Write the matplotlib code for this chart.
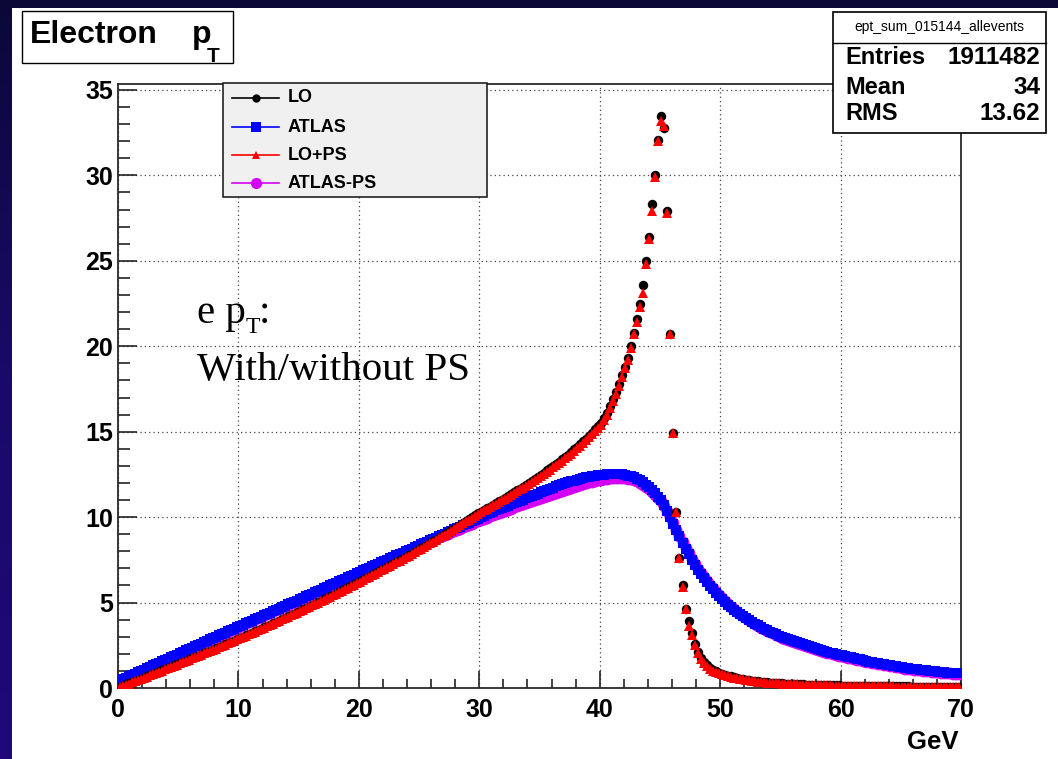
import numpy as np
import matplotlib
matplotlib.use("Agg")
import matplotlib.pyplot as plt
from matplotlib.patches import Rectangle
from matplotlib.lines import Line2D
from matplotlib.ticker import MultipleLocator
from matplotlib.colors import LinearSegmentedColormap

# ---------------- data (0.25 GeV bins, 0..70 GeV) ----------------
bin_lo, bin_hi, n_bins = 0.0, 70.0, 280

lo_vals = [
    0.08, 0.14, 0.21, 0.27, 0.33, 0.41, 0.47, 0.55, 0.61, 0.69, 0.75, 0.83, 0.89, 0.97, 1.04, 1.10, 1.18, 1.24, 1.32, 1.39,
    1.46, 1.53, 1.60, 1.67, 1.75, 1.82, 1.89, 1.96, 2.04, 2.11, 2.19, 2.25, 2.33, 2.41, 2.48, 2.55, 2.63, 2.70, 2.78, 2.86,
    2.93, 3.01, 3.09, 3.16, 3.24, 3.31, 3.40, 3.47, 3.55, 3.63, 3.70, 3.79, 3.87, 3.94, 4.03, 4.10, 4.19, 4.27, 4.35, 4.43,
    4.51, 4.60, 4.68, 4.76, 4.85, 4.93, 5.02, 5.10, 5.19, 5.27, 5.36, 5.45, 5.53, 5.62, 5.71, 5.80, 5.89, 5.98, 6.07, 6.16,
    6.25, 6.34, 6.43, 6.52, 6.62, 6.71, 6.80, 6.90, 6.99, 7.09, 7.18, 7.28, 7.38, 7.47, 7.57, 7.67, 7.77, 7.87, 7.97, 8.07,
    8.17, 8.27, 8.38, 8.48, 8.58, 8.69, 8.79, 8.90, 9.01, 9.12, 9.22, 9.33, 9.44, 9.55, 9.66, 9.78, 9.89, 10.00, 10.11, 10.22,
    10.32, 10.42, 10.52, 10.62, 10.72, 10.82, 10.93, 11.03, 11.13, 11.24, 11.34, 11.45, 11.56, 11.67, 11.78, 11.89, 12.00, 12.12, 12.24, 12.36,
    12.48, 12.60, 12.73, 12.85, 12.98, 13.11, 13.24, 13.38, 13.52, 13.66, 13.81, 13.96, 14.11, 14.27, 14.43, 14.60, 14.77, 14.95, 15.13, 15.32,
    15.50, 15.80, 16.10, 16.50, 16.90, 17.30, 17.80, 18.30, 18.80, 19.30, 20.00, 20.80, 21.60, 22.50, 23.60, 25.00, 26.40, 28.30, 30.00, 32.10,
    33.50, 32.80, 27.90, 20.70, 14.90, 10.30, 7.60, 6.00, 4.60, 3.90, 3.20, 2.60, 2.10, 1.78, 1.52, 1.32, 1.18, 1.06, 0.97, 0.90,
    0.84, 0.78, 0.73, 0.68, 0.63, 0.59, 0.55, 0.52, 0.49, 0.46, 0.43, 0.41, 0.39, 0.37, 0.35, 0.33, 0.32, 0.30, 0.29, 0.28,
    0.27, 0.26, 0.25, 0.24, 0.23, 0.22, 0.21, 0.21, 0.20, 0.19, 0.19, 0.18, 0.18, 0.17, 0.17, 0.16, 0.16, 0.15, 0.15, 0.15,
    0.14, 0.14, 0.14, 0.13, 0.13, 0.13, 0.12, 0.12, 0.12, 0.11, 0.11, 0.11, 0.11, 0.10, 0.10, 0.10, 0.10, 0.10, 0.09, 0.09,
    0.09, 0.09, 0.09, 0.08, 0.08, 0.08, 0.08, 0.08, 0.08, 0.07, 0.07, 0.07, 0.07, 0.07, 0.07, 0.06, 0.06, 0.06, 0.06, 0.06,
]

lops_vals = [
    0.07, 0.13, 0.20, 0.26, 0.33, 0.40, 0.46, 0.53, 0.60, 0.67, 0.74, 0.81, 0.88, 0.95, 1.02, 1.09, 1.16, 1.23, 1.30, 1.37,
    1.44, 1.51, 1.58, 1.66, 1.73, 1.80, 1.87, 1.95, 2.02, 2.09, 2.17, 2.24, 2.31, 2.39, 2.46, 2.54, 2.61, 2.69, 2.76, 2.84,
    2.91, 2.99, 3.07, 3.14, 3.22, 3.30, 3.38, 3.45, 3.53, 3.61, 3.69, 3.77, 3.85, 3.93, 4.01, 4.09, 4.17, 4.25, 4.33, 4.41,
    4.49, 4.58, 4.66, 4.74, 4.83, 4.91, 5.00, 5.08, 5.17, 5.25, 5.34, 5.43, 5.51, 5.60, 5.69, 5.78, 5.87, 5.96, 6.05, 6.14,
    6.23, 6.32, 6.41, 6.50, 6.60, 6.69, 6.78, 6.88, 6.97, 7.07, 7.16, 7.26, 7.36, 7.45, 7.55, 7.65, 7.75, 7.85, 7.95, 8.05,
    8.15, 8.25, 8.36, 8.46, 8.56, 8.67, 8.77, 8.88, 8.98, 9.09, 9.20, 9.31, 9.42, 9.53, 9.64, 9.75, 9.86, 9.97, 10.08, 10.19,
    10.29, 10.39, 10.49, 10.59, 10.69, 10.79, 10.89, 10.99, 11.09, 11.20, 11.30, 11.41, 11.52, 11.62, 11.73, 11.84, 11.95, 12.07, 12.18, 12.30,
    12.42, 12.54, 12.66, 12.78, 12.91, 13.04, 13.17, 13.30, 13.44, 13.58, 13.72, 13.87, 14.02, 14.18, 14.34, 14.50, 14.67, 14.85, 15.03, 15.21,
    15.40, 15.70, 16.00, 16.40, 16.80, 17.20, 17.70, 18.20, 18.70, 19.20, 19.90, 20.70, 21.40, 22.30, 23.10, 24.80, 26.30, 27.90, 29.90, 32.00,
    33.20, 32.90, 27.80, 20.70, 14.90, 10.30, 7.60, 5.90, 4.60, 3.60, 3.10, 2.50, 2.05, 1.72, 1.47, 1.28, 1.13, 1.02, 0.93, 0.86,
    0.80, 0.74, 0.69, 0.65, 0.60, 0.56, 0.53, 0.50, 0.47, 0.44, 0.42, 0.39, 0.37, 0.35, 0.34, 0.32, 0.30, 0.29, 0.28, 0.27,
    0.26, 0.25, 0.24, 0.23, 0.22, 0.21, 0.20, 0.20, 0.19, 0.18, 0.18, 0.17, 0.17, 0.16, 0.16, 0.15, 0.15, 0.14, 0.14, 0.14,
    0.13, 0.13, 0.13, 0.12, 0.12, 0.12, 0.11, 0.11, 0.11, 0.10, 0.10, 0.10, 0.10, 0.09, 0.09, 0.09, 0.09, 0.09, 0.08, 0.08,
    0.08, 0.08, 0.08, 0.07, 0.07, 0.07, 0.07, 0.07, 0.07, 0.06, 0.06, 0.06, 0.06, 0.06, 0.06, 0.05, 0.05, 0.05, 0.05, 0.05,
]

atlas_vals = [
    0.44, 0.52, 0.60, 0.68, 0.76, 0.84, 0.92, 1.00, 1.08, 1.16, 1.24, 1.32, 1.40, 1.48, 1.56, 1.64, 1.72, 1.80, 1.88, 1.96,
    2.04, 2.12, 2.20, 2.28, 2.36, 2.44, 2.52, 2.60, 2.68, 2.76, 2.84, 2.92, 3.00, 3.08, 3.16, 3.23, 3.31, 3.39, 3.47, 3.55,
    3.63, 3.71, 3.79, 3.87, 3.94, 4.02, 4.10, 4.18, 4.26, 4.34, 4.41, 4.49, 4.57, 4.65, 4.73, 4.81, 4.89, 4.96, 5.04, 5.12,
    5.20, 5.28, 5.36, 5.44, 5.52, 5.60, 5.68, 5.76, 5.84, 5.92, 6.00, 6.08, 6.16, 6.24, 6.32, 6.40, 6.48, 6.56, 6.64, 6.72,
    6.80, 6.88, 6.96, 7.04, 7.12, 7.20, 7.28, 7.36, 7.44, 7.52, 7.60, 7.68, 7.76, 7.84, 7.92, 8.00, 8.08, 8.16, 8.24, 8.32,
    8.40, 8.48, 8.56, 8.64, 8.72, 8.80, 8.88, 8.96, 9.04, 9.12, 9.20, 9.28, 9.36, 9.44, 9.52, 9.60, 9.68, 9.76, 9.84, 9.92,
    10.00, 10.08, 10.16, 10.24, 10.32, 10.39, 10.47, 10.54, 10.61, 10.68, 10.75, 10.82, 10.89, 10.96, 11.03, 11.10, 11.16, 11.22, 11.28, 11.34,
    11.45, 11.52, 11.59, 11.66, 11.73, 11.80, 11.86, 11.92, 11.98, 12.04, 12.09, 12.14, 12.19, 12.24, 12.28, 12.32, 12.36, 12.39, 12.42, 12.45,
    12.47, 12.49, 12.51, 12.52, 12.53, 12.53, 12.52, 12.50, 12.47, 12.43, 12.38, 12.32, 12.24, 12.15, 12.04, 11.91, 11.76, 11.59, 11.40, 11.20,
    11.00, 10.70, 10.35, 10.00, 9.62, 9.25, 8.88, 8.50, 8.15, 7.82, 7.50, 7.20, 6.92, 6.66, 6.42, 6.20, 5.98, 5.77, 5.57, 5.38,
    5.20, 5.03, 4.87, 4.72, 4.58, 4.45, 4.32, 4.20, 4.08, 3.97, 3.86, 3.76, 3.66, 3.57, 3.48, 3.39, 3.30, 3.22, 3.14, 3.06,
    2.99, 2.92, 2.85, 2.79, 2.73, 2.67, 2.61, 2.55, 2.49, 2.43, 2.38, 2.33, 2.27, 2.22, 2.17, 2.12, 2.07, 2.03, 1.99, 1.95,
    1.91, 1.87, 1.83, 1.79, 1.75, 1.71, 1.67, 1.63, 1.59, 1.55, 1.52, 1.48, 1.45, 1.42, 1.39, 1.36, 1.33, 1.30, 1.27, 1.24,
    1.21, 1.18, 1.16, 1.13, 1.11, 1.09, 1.07, 1.05, 1.03, 1.01, 0.99, 0.97, 0.95, 0.93, 0.92, 0.90, 0.89, 0.87, 0.86, 0.85,
]

atlasps_vals = [
    0.43, 0.51, 0.59, 0.67, 0.75, 0.83, 0.91, 0.99, 1.07, 1.15, 1.23, 1.31, 1.39, 1.47, 1.55, 1.63, 1.71, 1.79, 1.87, 1.95,
    2.03, 2.11, 2.19, 2.27, 2.35, 2.43, 2.51, 2.59, 2.67, 2.75, 2.83, 2.91, 2.99, 3.07, 3.15, 3.22, 3.30, 3.38, 3.46, 3.54,
    3.62, 3.70, 3.78, 3.86, 3.93, 4.01, 4.09, 4.17, 4.25, 4.33, 4.40, 4.48, 4.56, 4.64, 4.72, 4.80, 4.88, 4.95, 5.03, 5.11,
    5.19, 5.27, 5.35, 5.43, 5.51, 5.59, 5.67, 5.75, 5.83, 5.91, 5.99, 6.07, 6.15, 6.23, 6.31, 6.39, 6.47, 6.55, 6.63, 6.70,
    6.78, 6.86, 6.94, 7.02, 7.10, 7.18, 7.26, 7.34, 7.42, 7.50, 7.58, 7.66, 7.73, 7.81, 7.89, 7.97, 8.05, 8.13, 8.20, 8.28,
    8.36, 8.43, 8.51, 8.59, 8.66, 8.74, 8.81, 8.89, 8.96, 9.04, 9.11, 9.18, 9.26, 9.33, 9.40, 9.47, 9.55, 9.62, 9.69, 9.76,
    9.83, 9.90, 9.97, 10.04, 10.11, 10.17, 10.24, 10.31, 10.37, 10.44, 10.50, 10.57, 10.63, 10.70, 10.76, 10.82, 10.88, 10.94, 11.00, 11.06,
    11.12, 11.18, 11.24, 11.30, 11.36, 11.42, 11.48, 11.54, 11.60, 11.66, 11.72, 11.78, 11.84, 11.89, 11.94, 11.99, 12.04, 12.08, 12.12, 12.16,
    12.20, 12.23, 12.26, 12.28, 12.30, 12.31, 12.31, 12.30, 12.28, 12.25, 12.21, 12.16, 12.09, 12.01, 11.91, 11.79, 11.65, 11.49, 11.31, 11.12,
    10.93, 10.66, 10.33, 9.99, 9.63, 9.27, 8.91, 8.55, 8.21, 7.88, 7.57, 7.27, 6.99, 6.73, 6.49, 6.26, 6.04, 5.83, 5.63, 5.44,
    5.26, 5.08, 4.91, 4.75, 4.60, 4.46, 4.33, 4.20, 4.08, 3.96, 3.85, 3.74, 3.64, 3.54, 3.45, 3.36, 3.27, 3.19, 3.11, 3.03,
    2.95, 2.88, 2.81, 2.74, 2.68, 2.62, 2.56, 2.50, 2.44, 2.38, 2.33, 2.28, 2.22, 2.17, 2.12, 2.07, 2.02, 1.98, 1.94, 1.90,
    1.86, 1.82, 1.78, 1.74, 1.70, 1.66, 1.62, 1.58, 1.55, 1.51, 1.48, 1.44, 1.41, 1.38, 1.35, 1.32, 1.29, 1.26, 1.23, 1.20,
    1.17, 1.14, 1.12, 1.09, 1.07, 1.05, 1.03, 1.01, 0.99, 0.97, 0.95, 0.93, 0.91, 0.89, 0.88, 0.86, 0.85, 0.83, 0.82, 0.81,
]

series_names = ["LO", "ATLAS", "LO+PS", "ATLAS-PS"]
x_ticks = [0, 10, 20, 30, 40, 50, 60, 70]
y_ticks = [0, 5, 10, 15, 20, 25, 30, 35]
stats_title = "ept_sum_015144_allevents"
stats_rows = [("Entries", "1911482"), ("Mean", "34"), ("RMS", "13.62")]

# ---------------- figure ----------------
W, H = 1058, 759
fig = plt.figure(figsize=(W / 100, H / 100), dpi=100)
SANS = "Liberation Sans"
SERIF = "Liberation Serif"

# background (slide gradient) and white canvas
bg = fig.add_axes([0, 0, 1, 1], zorder=-5)
bg.set_xlim(0, W); bg.set_ylim(H, 0); bg.axis("off")
grad = np.linspace(0, 1, 256).reshape(-1, 1)
cmap_bg = LinearSegmentedColormap.from_list("bg", ["#0b0838", "#1a0a6a", "#20087a"])
bg.imshow(grad, cmap=cmap_bg, extent=[0, W, H, 0], aspect="auto")
bg.add_patch(Rectangle((12, 8), W - 12, H - 8, facecolor="white", edgecolor="none"))

# main axes
L, R, T, B = 118, 961, 84, 688
ax = fig.add_axes([L / W, (H - B) / H, (R - L) / W, (B - T) / H], zorder=1)
ax.set_facecolor("white")

edges = np.linspace(bin_lo, bin_hi, n_bins + 1)
centers = 0.5 * (edges[:-1] + edges[1:])

ax.plot(centers, atlasps_vals, ls="none", marker="o", ms=8.5, color="#d400f5", mew=0, zorder=3)
ax.plot(centers, atlas_vals, ls="none", marker="s", ms=7.3, color="#0000ff", mew=0, zorder=4)
ax.plot(centers, lo_vals, ls="none", marker="o", ms=6.8, color="black", mew=0, zorder=5)
ax.plot(centers, lops_vals, ls="none", marker="^", ms=7.8, color="#ff0000", mew=0, zorder=6)

ax.set_xlim(0, 70)
ax.set_ylim(0, 35.35)
ax.set_xticks(x_ticks)
ax.set_yticks(y_ticks)
ax.xaxis.set_minor_locator(MultipleLocator(2))
ax.yaxis.set_minor_locator(MultipleLocator(1))
ax.grid(which="major", ls=(0, (1, 2.5)), lw=0.9, color="#444444", zorder=0)
ax.set_axisbelow(True)
ax.tick_params(which="both", direction="in", top=False, right=False, width=1.2, color="#222222")
ax.tick_params(axis="y", which="major", length=13.5, pad=3.5)
ax.tick_params(axis="y", which="minor", length=8.5)
ax.tick_params(axis="x", which="major", length=12, pad=7)
ax.tick_params(axis="x", which="minor", length=6.5)
for lab in ax.get_xticklabels() + ax.get_yticklabels():
    lab.set_fontfamily(SANS)
    lab.set_fontweight("bold")
    lab.set_fontsize(18)
for sp in ax.spines.values():
    sp.set_linewidth(1.3)
    sp.set_color("#2a2a2a")

# overlay in pixel coordinates
ov = fig.add_axes([0, 0, 1, 1], zorder=10)
ov.set_xlim(0, W); ov.set_ylim(H, 0); ov.axis("off")
ov.patch.set_alpha(0)

# axis title
ov.text(958, 742, "GeV", ha="right", va="center", fontfamily=SANS, fontweight="bold", fontsize=18.5)

# histogram title box
ov.add_patch(Rectangle((22, 11), 211, 52, facecolor="white", edgecolor="black", lw=1.0))
ov.text(30, 43, "Electron", ha="left", va="baseline", fontfamily=SANS, fontweight="bold", fontsize=23)
ov.text(192, 43, "p", ha="left", va="baseline", fontfamily=SANS, fontweight="bold", fontsize=23)
ov.text(207, 62, "T", ha="left", va="baseline", fontfamily=SANS, fontweight="bold", fontsize=15)

# stats box
ov.add_patch(Rectangle((833, 12), 213, 121, facecolor="white", edgecolor="black", lw=1.2))
ov.add_line(Line2D([833, 1046], [43, 43], color="black", lw=1.0))
ov.text(939.5, 27.5, stats_title, ha="center", va="center", fontfamily=SANS, fontsize=10)
for (k, v), yc in zip(stats_rows, [58, 87, 113]):
    ov.text(845, yc, k, ha="left", va="center", fontfamily=SANS, fontweight="bold", fontsize=17)
    ov.text(1040, yc, v, ha="right", va="center", fontfamily=SANS, fontweight="bold", fontsize=17.5)

# legend
ov.add_patch(Rectangle((223, 83), 264, 114, facecolor="#f0f0f0", edgecolor="#222222", lw=1.2))
leg_style = [("black", "o", 6.0), ("#0000ff", "s", 7.0), ("#ff0000", "^", 6.0), ("#d400f5", "o", 8.0)]
for name, (col, mk, ms), yc in zip(series_names, leg_style, [98, 127, 155, 183]):
    ov.add_line(Line2D([232, 279], [yc, yc], color=col, lw=1.2))
    ov.add_line(Line2D([255.5], [yc], color=col, marker=mk, ms=ms, mew=0))
    ov.text(288, yc, name, ha="left", va="center", fontfamily=SANS, fontweight="bold", fontsize=13)

# annotation text (Times)
ov.text(197, 323, "e p", ha="left", va="baseline", fontfamily=SERIF, fontsize=29.5)
ov.text(246, 333, "T", ha="left", va="baseline", fontfamily=SERIF, fontsize=17)
ov.text(259, 323, ":", ha="left", va="baseline", fontfamily=SERIF, fontsize=29.5)
ov.text(197, 380, "With/without PS", ha="left", va="baseline", fontfamily=SERIF, fontsize=29.5)

fig.savefig("out.png", dpi=100, facecolor="#140a5a")
